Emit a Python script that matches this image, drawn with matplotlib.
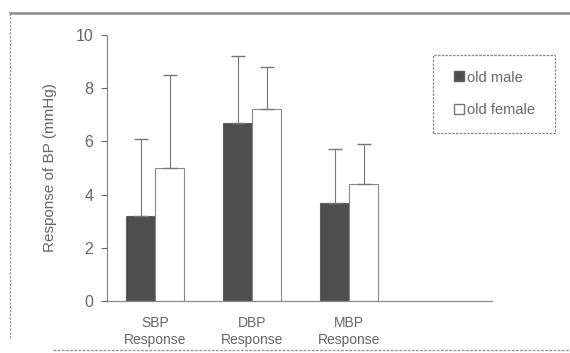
import numpy as np
import matplotlib.pyplot as plt
from matplotlib.patches import Rectangle
from matplotlib.lines import Line2D

# Resposta da pressão arterial por grupo
groups = ["SBP\nResponse", "DBP\nResponse", "MBP\nResponse"]
old_male = [3.2, 6.7, 3.7]
old_male_sd = [2.9, 2.5, 2.0]
old_female = [5.0, 7.2, 4.4]
old_female_sd = [3.5, 1.6, 1.5]

plt.rcParams["font.family"] = ["Liberation Sans", "DejaVu Sans"]
txt = "#666666"
edge = "#888888"

fig = plt.figure(figsize=(5.7, 3.53), dpi=100)
ax = fig.add_axes([0.188, 0.147, 0.677, 0.754])

x = np.arange(len(groups))
w = 0.3
ax.bar(x - w / 2, old_male, w, color="#4e4e4e", edgecolor="#5e5e5e", linewidth=0.8)
ax.bar(x + w / 2, old_female, w, color="white", edgecolor=edge, linewidth=0.8)

# barras de erro só para cima
ax.errorbar(x - w / 2, old_male, yerr=[np.zeros(3), old_male_sd], fmt="none",
            ecolor="#777777", elinewidth=0.8, capsize=5, capthick=1.0)
ax.errorbar(x + w / 2, old_female, yerr=[np.zeros(3), old_female_sd], fmt="none",
            ecolor="#777777", elinewidth=0.8, capsize=5, capthick=1.0)

ax.set_xlim(-0.495, 3.48)
ax.set_ylim(0, 10)
ax.set_yticks([0, 2, 4, 6, 8, 10])
ax.set_xticks(x)
ax.set_xticklabels(groups, fontsize=10, color=txt, linespacing=1.25)
ax.tick_params(axis="y", labelsize=11.5, colors=txt, length=4, width=0.8, pad=6)
ax.tick_params(axis="x", length=0, pad=11)
ax.set_ylabel("Response of BP (mmHg)", fontsize=11, color=txt, labelpad=13)

for s in ["top", "right"]:
    ax.spines[s].set_visible(False)
for s in ["left", "bottom"]:
    ax.spines[s].set_color("#8a8a8a")
    ax.spines[s].set_linewidth(0.9)
    ax.spines[s].set_linestyle((0, (2, 1)))

# caixa da legenda fora da área dos eixos
bx0, by0, bx1, by1 = 433 / 570, 1 - 133 / 353, 555 / 570, 1 - 55 / 353
fig.add_artist(Rectangle((bx0, by0), bx1 - bx0, by1 - by0, fill=False,
                         edgecolor="#8a8a8a", linewidth=0.9,
                         linestyle=(0, (2, 1)), transform=fig.transFigure))
handles = [
    Line2D([], [], marker="s", linestyle="none", markersize=7,
           markerfacecolor="#4e4e4e", markeredgecolor="#5e5e5e"),
    Line2D([], [], marker="s", linestyle="none", markersize=7,
           markerfacecolor="white", markeredgecolor="#777777"),
]
fig.legend(handles, ["old male", "old female"], loc="center",
           bbox_to_anchor=((bx0 + bx1) / 2, (by0 + by1) / 2), frameon=False,
           fontsize=10.5, labelcolor=txt, handletextpad=0.15,
           handlelength=0.8, labelspacing=1.3, borderpad=0, borderaxespad=0)

# moldura externa
fig.add_artist(Line2D([10 / 570, 1.0], [1 - 13 / 353] * 2, color="#8a8a8a",
                      linewidth=1.8, transform=fig.transFigure))
fig.add_artist(Line2D([10 / 570] * 2, [1 - 13 / 353, 1 - 338 / 353],
                      color="#999999", linewidth=0.9, linestyle=(0, (2, 1)),
                      transform=fig.transFigure))
fig.add_artist(Line2D([53 / 570, 1.0], [1 - 350 / 353] * 2, color="#999999",
                      linewidth=1.0, linestyle=(0, (2, 1)),
                      transform=fig.transFigure))

fig.savefig("out.png", dpi=100)
